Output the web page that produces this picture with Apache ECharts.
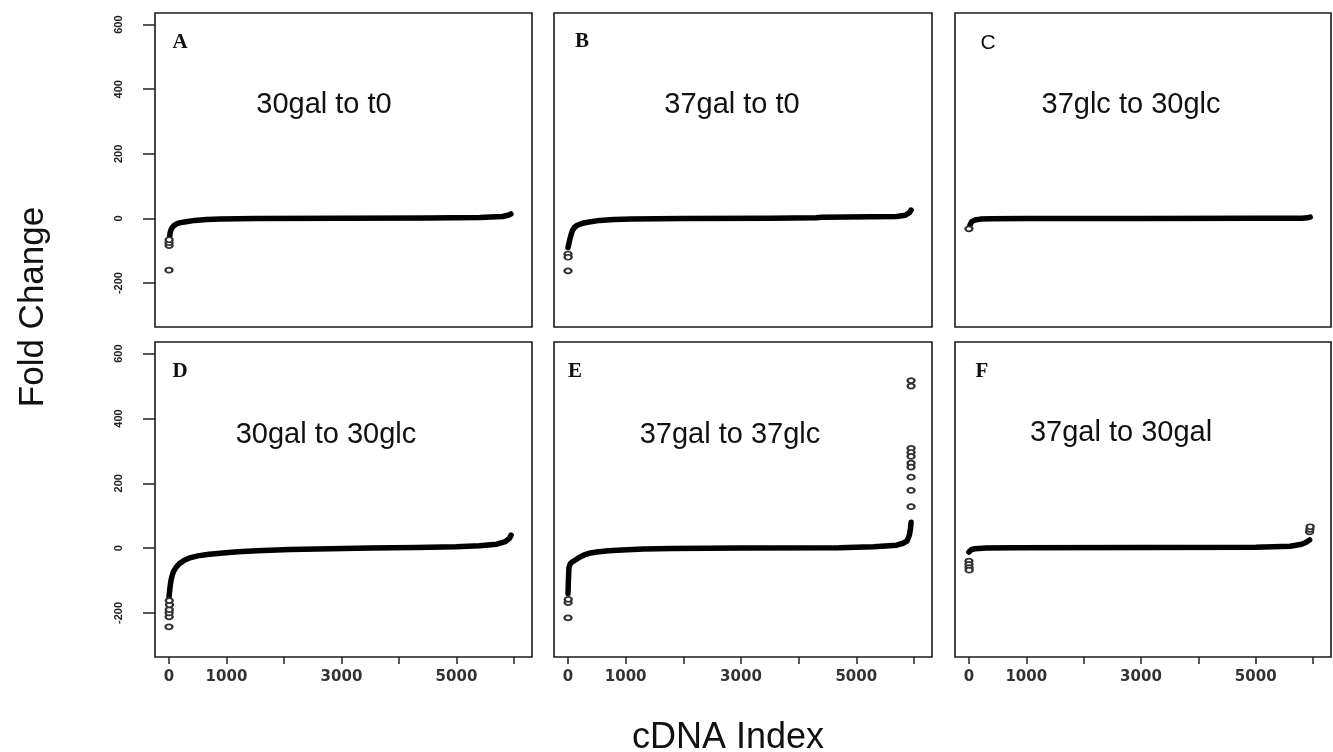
<!DOCTYPE html>
<html>
<head>
<meta charset="utf-8">
<script src="https://cdn.jsdelivr.net/npm/echarts@6/dist/echarts.min.js"></script>
<style>
  html, body { margin: 0; padding: 0; background: #fff; }
  #chart { width: 1333px; height: 752px; }
</style>
</head>
<body>
<div id="chart"></div>
<script>
// ---------- data ----------
const panelLetters = ['A', 'B', 'C', 'D', 'E', 'F'];
const panelTitles = ['30gal to t0', '37gal to t0', '37glc to 30glc',
                     '30gal to 30glc', '37gal to 37glc', '37gal to 30gal'];
const xTickValues = [0, 1000, 2000, 3000, 4000, 5000, 6000];
const xTickLabels = [0, 1000, 3000, 5000];
const yTickValues = [-200, 0, 200, 400, 600];
const xTitle = 'cDNA Index';
const yTitle = 'Fold Change';

// sorted fold-change curves [cDNA index, fold change]
const curveA = [[0,-80],[5,-70],[10,-60],[17,-48],[30,-38],[50,-30],[80,-23],[130,-17],[200,-13],[300,-10],[450,-6],[650,-3],[900,-1.5],[1500,-0.5],[3000,0.5],[4500,1.5],[5400,3],[5800,6],[5900,10],[5945,14]];
const outliersA = [[0,-160],[2,-84],[1,-75],[3,-66]];

const curveB = [[0,-90],[15,-78],[35,-62],[55,-50],[75,-38],[110,-28],[160,-21],[250,-15],[365,-11],[550,-6],[800,-3],[1100,-1.5],[2000,-0.5],[3500,0.5],[4300,2],[4400,4],[5700,6],[5850,10],[5920,18],[5950,26]];
const outliersB = [[0,-110],[2,-120],[0,-162]];

const curveC = [[0,-30],[10,-25],[25,-18],[50,-10],[100,-5],[200,-2],[400,-1],[1000,-0.5],[3000,0],[5000,0.5],[5800,1],[5900,2],[5950,4]];
const outliersC = [[0,-32]];

const curveD = [[0,-152],[10,-135],[20,-118],[35,-100],[55,-85],[80,-72],[120,-60],[180,-48],[260,-38],[365,-30],[500,-24],[700,-19],[940,-15],[1200,-11],[1530,-8],[2100,-4],[2800,-2],[3500,0],[4300,2],[5000,4],[5400,7],[5700,12],[5850,20],[5920,30],[5950,40]];
const outliersD = [[0,-243],[3,-212],[3,-200],[6,-190],[9,-175],[5,-162]];

const curveE = [[0,-140],[5,-110],[10,-85],[17,-60],[40,-48],[80,-42],[134,-36],[200,-28],[280,-21],[365,-16],[500,-12],[700,-8],[939,-6],[1300,-3],[1809,-1],[3000,0],[4700,1],[5300,4],[5700,9],[5810,15],[5880,22],[5920,40],[5940,60],[5950,80]];
const outliersE = [[0,-215],[2,-168],[4,-158],[5950,517],[5950,500],[5950,308],[5950,295],[5950,283],[5950,262],[5950,250],[5950,219],[5950,178],[5950,128]];

const curveF = [[0,-12],[15,-8],[40,-5],[100,-2],[300,0],[800,1],[3000,2],[5000,3],[5600,6],[5800,12],[5880,18],[5940,25]];
const outliersF = [[0,-40],[0,-50],[2,-60],[4,-68],[5940,50],[5945,58],[5950,66]];

const curves = [curveA, curveB, curveC, curveD, curveE, curveF];
const outliers = [outliersA, outliersB, outliersC, outliersD, outliersE, outliersF];

// ---------- layout ----------
const colLeft = [155, 554, 955];
const colWidth = [377, 378, 376];
const rowTop = [13, 342];
const rowHeight = [314, 315];
const X_MIN = -243, X_MAX = 6313, Y_MIN = -336, Y_MAX = 636;

const grids = [], xAxes = [], yAxes = [], series = [], graphics = [];
for (let i = 0; i < 6; i++) {
  const r = Math.floor(i / 3), c = i % 3;
  grids.push({
    left: colLeft[c], top: rowTop[r], width: colWidth[c], height: rowHeight[r],
    show: true, borderColor: '#1a1a1a', borderWidth: 1.6, backgroundColor: '#fff'
  });
  xAxes.push({
    type: 'value', gridIndex: i, min: X_MIN, max: X_MAX, position: 'bottom',
    axisLine: { show: false, onZero: false },
    splitLine: { show: false },
    axisTick: { show: r === 1, customValues: xTickValues, length: 7, lineStyle: { color: '#222', width: 1.5 } },
    axisLabel: { show: r === 1, customValues: xTickLabels, margin: 13,
      formatter: v => String(v),
      fontFamily: 'DejaVu Sans', fontWeight: 'bold', fontSize: 15, color: '#333' }
  });
  yAxes.push({
    type: 'value', gridIndex: i, min: Y_MIN, max: Y_MAX, position: 'left',
    axisLine: { show: false, onZero: false },
    splitLine: { show: false },
    axisTick: { show: c === 0, customValues: yTickValues, length: 12, lineStyle: { color: '#222', width: 1.5 } },
    axisLabel: { show: c === 0, customValues: yTickValues, rotate: 90, margin: 31,
      formatter: v => String(v),
      fontFamily: 'Liberation Sans', fontWeight: 'bold', fontSize: 11, color: '#222' }
  });
  series.push({
    type: 'line', xAxisIndex: i, yAxisIndex: i, data: curves[i],
    showSymbol: false, symbol: 'none', silent: true, animation: false,
    lineStyle: { color: '#000', width: 5.5, cap: 'round', join: 'round' }
  });
  series.push({
    type: 'scatter', xAxisIndex: i, yAxisIndex: i, data: outliers[i],
    symbol: 'emptyCircle', symbolSize: [7, 5], silent: true, animation: false,
    z: 5,
    itemStyle: { color: '#333', borderWidth: 1.2, opacity: 1 }
  });
}

const letterPos = [[180, 43], [582, 42], [988, 43], [180, 372], [575, 372], [982, 372]];
const titlePos = [[324, 105], [732, 105], [1131, 105], [326, 435], [730, 435], [1121, 433]];
for (let i = 0; i < 6; i++) {
  graphics.push({
    type: 'text', x: letterPos[i][0], y: letterPos[i][1], silent: true,
    style: { text: panelLetters[i], align: 'center', verticalAlign: 'middle',
      textAlign: 'center', textVerticalAlign: 'middle',
      font: (i === 2 ? '21px "Liberation Sans"' : 'bold 21px "Liberation Serif"'), fill: '#111' }
  });
  graphics.push({
    type: 'text', x: titlePos[i][0], y: titlePos[i][1], silent: true,
    style: { text: panelTitles[i], align: 'center', verticalAlign: 'middle',
      textAlign: 'center', textVerticalAlign: 'middle',
      font: '29px "Liberation Sans"', fill: '#111' }
  });
}
graphics.push({
  type: 'text', x: 33, y: 307, rotation: Math.PI / 2, silent: true,
  style: { text: yTitle, align: 'center', verticalAlign: 'middle',
    textAlign: 'center', textVerticalAlign: 'middle',
    font: '35px "Liberation Sans"', fill: '#111' }
});
graphics.push({
  type: 'text', x: 728, y: 738, silent: true,
  style: { text: xTitle, align: 'center', verticalAlign: 'middle',
    textAlign: 'center', textVerticalAlign: 'middle',
    font: '36px "Liberation Sans"', fill: '#111' }
});

const chart = echarts.init(document.getElementById('chart'), null, { renderer: 'canvas' });
chart.setOption({
  animation: false,
  backgroundColor: '#fff',
  grid: grids, xAxis: xAxes, yAxis: yAxes, series: series,
  graphic: { elements: graphics }
});
</script>
</body>
</html>
